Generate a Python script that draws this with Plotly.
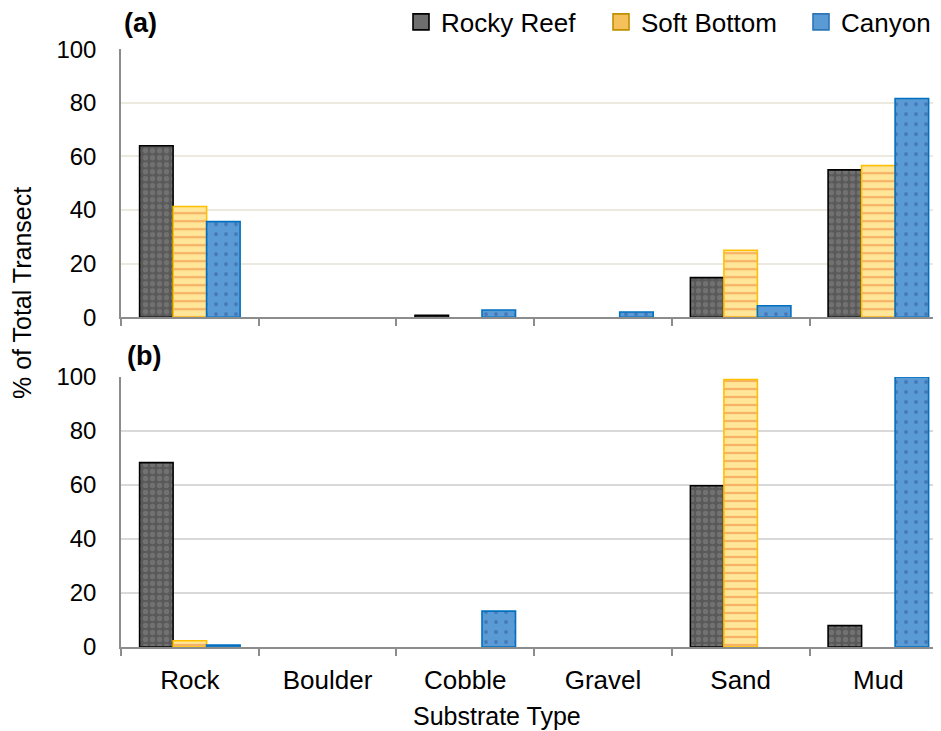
import plotly.graph_objects as go

categories = ["Rock", "Boulder", "Cobble", "Gravel", "Sand", "Mud"]
series_names = ["Rocky Reef", "Soft Bottom", "Canyon"]

# Panel (a)  (None = no bar drawn)
a_rocky = [64.0, None, 0.7, None, 14.8, 55.0]
a_soft = [41.3, None, None, None, 25.0, 56.6]
a_canyon = [35.7, None, 2.7, 2.0, 4.3, 81.6]

# Panel (b)
b_rocky = [68.3, None, None, None, 59.7, 7.9]
b_soft = [2.3, None, None, None, 99.1, None]
b_canyon = [0.7, None, 13.3, None, None, 100.0]

y_ticks = [0, 20, 40, 60, 80, 100]

PAGE_W, PAGE_H = 941, 731
OFF = 8  # body margin of the page
W, H = PAGE_W - OFF, PAGE_H - OFF
FONT = "Liberation Sans, Arial, sans-serif"

styles = {
    "Rocky Reef": dict(color="#595959", line=dict(color="#000000", width=1.6),
                       pattern=dict(shape=".", fgcolor="#8a8a8a", size=7, solidity=0.45, fillmode="overlay")),
    "Soft Bottom": dict(color="#FFE699", line=dict(color="#FFC000", width=1.6),
                        pattern=dict(shape="-", fgcolor="#ED7D31", size=8, solidity=0.28, fillmode="overlay")),
    "Canyon": dict(color="#5B9BD5", line=dict(color="#0070C0", width=1.6),
                   pattern=dict(shape=".", fgcolor="#2F5597", size=10, solidity=0.12, fillmode="overlay")),
}
legend_marker = {
    "Rocky Reef": dict(color="#6E6E6E", line=dict(color="#000000", width=1.6)),
    "Soft Bottom": dict(color="#F6C15A", line=dict(color="#BF9000", width=1.6)),
    "Canyon": dict(color="#5B9BD5", line=dict(color="#2E75B6", width=1.6)),
}

fig = go.Figure()
for name, vals in zip(series_names, [a_rocky, a_soft, a_canyon]):
    fig.add_trace(go.Bar(x=categories, y=vals, name=name, marker=styles[name],
                         xaxis="x", yaxis="y", showlegend=False))
for name, vals in zip(series_names, [b_rocky, b_soft, b_canyon]):
    fig.add_trace(go.Bar(x=categories, y=vals, name=name, marker=styles[name],
                         xaxis="x2", yaxis="y2", showlegend=False))
for name in series_names:
    fig.add_trace(go.Scatter(x=[None], y=[None], mode="markers", name=name,
                             marker=dict(symbol="square", size=16, **legend_marker[name]),
                             xaxis="x", yaxis="y", showlegend=True))

def px_x(p):
    return (p - OFF) / W

def px_y(p):
    return 1 - (p - OFF) / H

x_dom = [px_x(121), 1.0]
xr = [-0.5, -0.5 + (PAGE_W - 121) / 137.7]

common_x = dict(type="category", categoryorder="array", categoryarray=categories,
                range=xr, domain=x_dom, showline=True, linecolor="#8C8C8C", linewidth=1.5,
                ticks="outside", tickson="boundaries", ticklen=7, tickcolor="#8C8C8C",
                tickwidth=1.5, showgrid=False, zeroline=False, automargin=False,
                tickfont=dict(family=FONT, size=26, color="#000000"))
common_y = dict(range=[0, 100], tickvals=y_ticks, showline=True, linecolor="#8C8C8C",
                linewidth=1.5, ticks="", showgrid=True, gridwidth=1.5, zeroline=False,
                automargin=False,
                tickfont=dict(family=FONT, size=24, color="#000000"), ticklabelstandoff=18)

fig.update_layout(
    width=W, height=H,
    margin=dict(l=0, r=0, t=0, b=0, autoexpand=False),
    paper_bgcolor="white", plot_bgcolor="white",
    barmode="group", bargap=0.27, bargroupgap=0,
    font=dict(family=FONT, size=24, color="#000000"),
    xaxis=dict(common_x, anchor="y", showticklabels=False),
    yaxis=dict(common_y, anchor="x", domain=[px_y(317.3), px_y(49.2)], gridcolor="#ECE9DF"),
    xaxis2=dict(common_x, anchor="y2", showticklabels=True, ticklabelstandoff=9),
    yaxis2=dict(common_y, anchor="x2", domain=[px_y(647), px_y(377)], gridcolor="#D9D9D9"),
    legend=dict(orientation="h", x=px_x(401), xanchor="left", y=px_y(22), yanchor="middle",
                font=dict(family=FONT, size=26, color="#000000"), bgcolor="rgba(0,0,0,0)",
                entrywidth=155, entrywidthmode="pixels", itemwidth=30),
    annotations=[
        dict(text="<b>(a)</b>", x=px_x(122), y=px_y(23), xref="paper", yref="paper",
             xanchor="left", yanchor="middle", showarrow=False,
             font=dict(family=FONT, size=27, color="#000000")),
        dict(text="<b>(b)</b>", x=px_x(125), y=px_y(356), xref="paper", yref="paper",
             xanchor="left", yanchor="middle", showarrow=False,
             font=dict(family=FONT, size=27, color="#000000")),
        dict(text="Substrate Type", x=px_x(497), y=px_y(716), xref="paper", yref="paper",
             xanchor="center", yanchor="middle", showarrow=False,
             font=dict(family=FONT, size=25, color="#000000")),
        dict(text="% of Total Transect", x=px_x(22), y=px_y(293), xref="paper", yref="paper",
             xanchor="center", yanchor="middle", showarrow=False, textangle=-90,
             font=dict(family=FONT, size=25, color="#000000")),
    ],
)

fig.write_html("out.html")
